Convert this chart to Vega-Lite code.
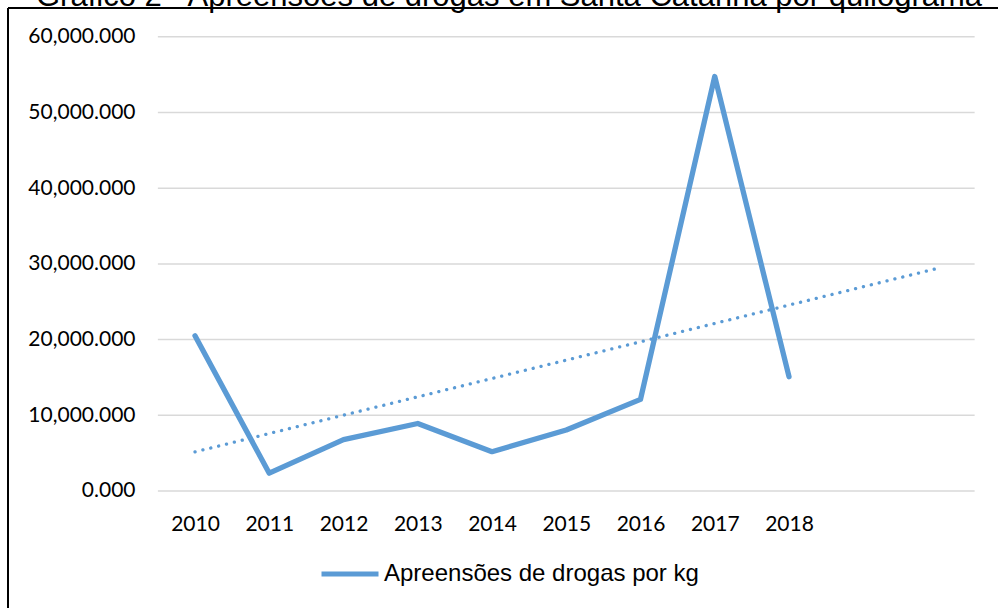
{
  "$schema": "https://vega.github.io/schema/vega-lite/v6.json",
  "width": 990,
  "height": 600,
  "autosize": {"type": "none"},
  "padding": {"left": 8, "top": 8, "right": 0, "bottom": 0},
  "background": "white",
  "title": {
    "text": "Gráfico 2 - Apreensões de drogas em Santa Catarina por quilograma",
    "anchor": "start",
    "frame": "group",
    "orient": "top",
    "offset": -30,
    "baseline": "alphabetic",
    "font": "Liberation Sans",
    "fontSize": 31,
    "fontWeight": "normal",
    "color": "black",
    "dx": 28,
    "limit": 0
  },
  "config": {
    "view": {"stroke": null},
    "axis": {"grid": false, "domain": false, "ticks": false, "tickSize": 0}
  },
  "datasets": {
    "seizures": [
      {"year": 2010, "kg": 20500},
      {"year": 2011, "kg": 2350},
      {"year": 2012, "kg": 6780},
      {"year": 2013, "kg": 8920},
      {"year": 2014, "kg": 5190},
      {"year": 2015, "kg": 8060},
      {"year": 2016, "kg": 12110},
      {"year": 2017, "kg": 54760},
      {"year": 2018, "kg": 15100}
    ],
    "grid": [
      {"tick": 0}, {"tick": 10000}, {"tick": 20000}, {"tick": 30000},
      {"tick": 40000}, {"tick": 50000}, {"tick": 60000}
    ]
  },
  "layer": [
    {
      "data": {"name": "grid"},
      "mark": {"type": "rule", "color": "#D9D9D9", "strokeWidth": 1.5},
      "encoding": {
        "y": {"field": "tick", "type": "quantitative"},
        "x": {"datum": 2009.5, "type": "quantitative"},
        "x2": {"datum": 2020.5}
      }
    },
    {
      "data": {"name": "seizures"},
      "mark": {"type": "rule", "color": "black", "strokeWidth": 2},
      "encoding": {"x": {"datum": 2007.4815, "type": "quantitative"}}
    },
    {
      "data": {"name": "seizures"},
      "mark": {"type": "rule", "color": "black", "strokeWidth": 2},
      "encoding": {"y": {"datum": 63804, "type": "quantitative"}}
    },
    {
      "data": {"name": "seizures"},
      "transform": [{"regression": "kg", "on": "year", "method": "linear", "extent": [2010, 2020]}],
      "mark": {"type": "line", "color": "#5B9BD5", "strokeWidth": 3.3, "strokeCap": "round", "strokeDash": [0.1, 8]},
      "encoding": {
        "x": {"field": "year", "type": "quantitative"},
        "y": {"field": "kg", "type": "quantitative"}
      }
    },
    {
      "data": {"name": "seizures"},
      "mark": {"type": "line", "strokeWidth": 5.3, "strokeCap": "round", "strokeJoin": "round"},
      "encoding": {
        "x": {
          "field": "year",
          "type": "quantitative",
          "scale": {"domain": [2007.4815, 2020.8148], "nice": false, "zero": false},
          "axis": {
            "orient": "bottom",
            "values": [2010, 2011, 2012, 2013, 2014, 2015, 2016, 2017, 2018],
            "format": "d",
            "title": null,
            "offset": -95,
            "labelPadding": 0,
            "labelFont": "Lato",
            "labelFontSize": 21,
            "labelColor": "black"
          }
        },
        "y": {
          "field": "kg",
          "type": "quantitative",
          "scale": {"domain": [-15456, 63804], "nice": false, "zero": false},
          "axis": {
            "values": [0, 10000, 20000, 30000, 40000, 50000, 60000],
            "format": ",.3f",
            "title": null,
            "offset": -127,
            "labelPadding": 0,
            "labelFont": "Lato",
            "labelFontSize": 21,
            "labelColor": "black"
          }
        },
        "color": {
          "datum": "Apreensões de drogas por kg",
          "scale": {"range": ["#5B9BD5"]},
          "legend": {
            "orient": "none",
            "legendX": 311,
            "legendY": 535,
            "title": null,
            "padding": 0,
            "symbolType": "stroke",
            "symbolSize": 3249,
            "symbolStrokeWidth": 5,
            "labelFont": "Liberation Sans",
            "labelFontSize": 24,
            "labelColor": "black",
            "labelOffset": 3,
            "labelLimit": 0
          }
        }
      }
    }
  ]
}
